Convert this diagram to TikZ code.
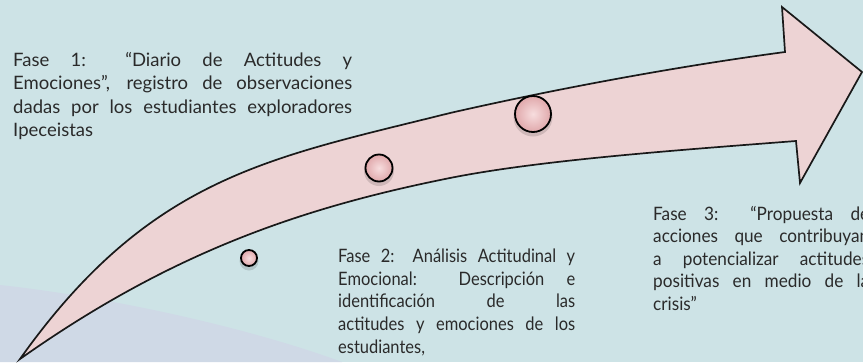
\documentclass[tikz,border=0pt]{standalone}
\usepackage{fontspec}
\setmainfont{Lato}
\newfontfamily\fontA{Lato}
\newfontfamily\fontB{Lato}[FakeStretch=0.89]
\newfontfamily\fontC{Lato}[FakeStretch=0.93]
\definecolor{bgblue}{HTML}{CDE3E6}
\definecolor{bglav}{HTML}{CFD9E6}
\definecolor{arrowpink}{HTML}{EDD3D4}
\definecolor{dotpink}{HTML}{E0A8AB}
\definecolor{dotlight}{HTML}{F7DDDE}
\definecolor{txt}{HTML}{2A2A2A}
\tikzset{
  arrowbody/.style={fill=arrowpink, draw=black!90, line width=1.7pt, line join=miter},
  dot/.style={circle, draw=black, line width=1.8pt, inner sep=0pt, shading=radial, inner color=dotlight, outer color=dotpink},
  dotshadow/.style={circle, fill=black, opacity=0.13, inner sep=0pt},
  txtline/.style={anchor=base west, inner sep=0pt, text=txt},
  ta/.style={txtline, font=\fontA\fontsize{18.5}{20}\selectfont},
  tb/.style={txtline, font=\fontB\fontsize{18.5}{20}\selectfont},
  tc/.style={txtline, font=\fontC\fontsize{18.5}{20}\selectfont}
}
\begin{document}
\begin{tikzpicture}[x=1pt,y=-1pt]
\useasboundingbox (0,0) rectangle (863,362);
\clip (0,0) rectangle (863,362);
\fill[bgblue] (0,0) rectangle (863,362);
\fill[bglav] (0,285) .. controls (110,297) and (250,328) .. (342,362) -- (0,362) -- cycle;
% arrow
\path[arrowbody] (20,359) .. controls (150,176) and (270,158) .. (450,113)
  .. controls (560,88) and (680,66) .. (785,52)
  -- (782,7) -- (862,72) -- (800,183) -- (796,141)
  .. controls (680,150) and (540,160) .. (450,178)
  .. controls (300,208) and (170,253) .. (20,359) -- cycle;
% dots
\node[dotshadow, minimum size=19pt] (s1) at (249,261) {};
\node[dot, minimum size=16pt] (d1) at (249,258) {};
\node[dotshadow, minimum size=30pt] (s2) at (379,171) {};
\node[dot, minimum size=27pt] (d2) at (379,168) {};
\node[dotshadow, minimum size=39pt] (s3) at (533,117) {};
\node[dot, minimum size=36pt] (d3) at (533,114) {};
% text 1
\node[ta] (a1) at (13,66) {\makebox[339pt][s]{Fase 1: “Diario de Actitudes y}};
\node[ta] (a2) at (13,89.5) {\makebox[339pt][s]{Emociones”, registro de observaciones}};
\node[ta] (a3) at (13,113) {\makebox[339pt][s]{dadas por los estudiantes exploradores}};
\node[ta] (a4) at (13,136.5) {Ipeceistas};
% text 2
\node[tb] (b1) at (338,262) {\makebox[237pt][s]{Fase 2: Análisis Actitudinal y}};
\node[tb] (b2) at (338,285) {\makebox[237pt][s]{Emocional: Descripción e}};
\node[tb] (b3) at (338,307.5) {\makebox[237pt][s]{identificación de las}};
\node[tb] (b4) at (338,330) {\makebox[237pt][s]{actitudes y emociones de los}};
\node[tb] (b5) at (338,353) {estudiantes,};
% text 3
\node[tc] (c1) at (653,220) {\makebox[216pt][s]{Fase 3: “Propuesta de}};
\node[tc] (c2) at (653,242.5) {\makebox[216pt][s]{acciones que contribuyan}};
\node[tc] (c3) at (653,265) {\makebox[216pt][s]{a potencializar actitudes}};
\node[tc] (c4) at (653,287.5) {\makebox[216pt][s]{positivas en medio de la}};
\node[tc] (c5) at (653,310) {crisis”};
\end{tikzpicture}
\end{document}
